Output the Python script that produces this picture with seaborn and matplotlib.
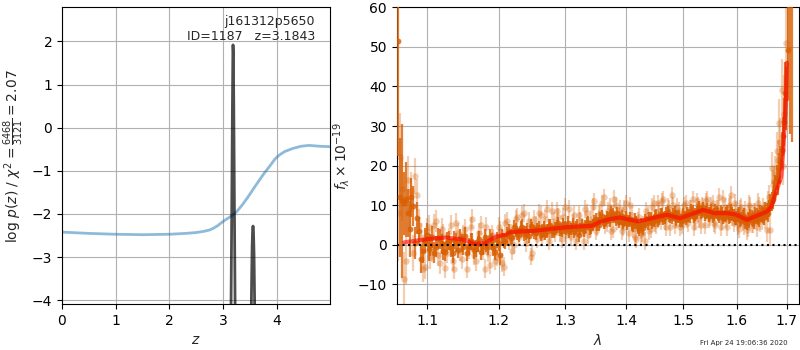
import numpy as np
import pandas as pd
import matplotlib
matplotlib.use("Agg")
import matplotlib.pyplot as plt
import seaborn as sns

# ---------------- redshift panel ----------------
z_chi = [0.0, 0.5, 1.0, 1.5, 2.0, 2.3, 2.5, 2.65, 2.75, 2.82, 2.9, 2.97, 3.05, 3.15,
         3.25, 3.35, 3.45, 3.6, 3.75, 3.88, 3.97, 4.05, 4.15, 4.3, 4.45, 4.6, 4.8, 5.0]
logp_chi = [-2.42, -2.45, -2.47, -2.48, -2.47, -2.45, -2.43, -2.40, -2.37, -2.33, -2.27,
            -2.20, -2.13, -2.05, -1.95, -1.80, -1.63, -1.35, -1.08, -0.87, -0.72, -0.63,
            -0.55, -0.48, -0.43, -0.41, -0.43, -0.44]

z_pz = [3.05, 3.12, 3.145, 3.16, 3.172, 3.18, 3.1843, 3.19, 3.198, 3.21, 3.225, 3.25,
        3.45, 3.51, 3.527, 3.54, 3.55, 3.557, 3.565, 3.575, 3.59, 3.63, 3.9]
logp_pz = [-12.0, -7.0, -4.5, -2.0, 0.3, 1.55, 1.92, 1.75, 0.6, -1.8, -4.5, -8.0,
           -12.0, -6.0, -3.9, -2.75, -2.35, -2.28, -2.4, -2.9, -4.4, -8.0, -12.0]

z_best = 3.1843
chi2_val, dof = 6468, 3121
root_name, obj_id = "j161312p5650", 1187

# ---------------- spectrum panel ----------------
# two exposures of the same grism spectrum, each with a fine (light) and
# a coarse (dark) extraction; sampling step in microns
dwave = 0.005

wave0_dark_a = 1.062
flux_dark_a = [51.5, 11.0, 11.5, 4.0, 9.8, 6.8, -3.6, 1.0, -1.0, 2.0,
               -0.5, 1.5, -1.5, 0.8, -0.8, 1.2, -1.2, 0.5, 2.2, -0.5,
               0.8, -1.0, 1.5, -0.6, 0.3, 2.0, -0.9, 1.2, -2.5, 1.0,
               2.5, 1.8, 4.5, 3.0, 4.2, 2.8, 3.6, 4.8, 3.2, 3.9,
               2.6, 4.4, 3.5, 5.0, 3.3, 4.6, 3.8, 5.2, 4.0, 3.4,
               5.1, 4.3, 2.4, 5.0, 4.6, 5.6, 4.4, 6.0, 5.2, 6.6,
               5.5, 7.0, 6.2, 7.6, 6.4, 5.8, 7.2, 6.0, 5.4, 6.6,
               4.8, 5.6, 3.8, 5.0, 6.2, 5.4, 6.8, 6.0, 7.4, 6.6,
               7.8, 6.9, 8.2, 7.0, 7.6, 6.4, 7.2, 6.0, 7.0, 8.0,
               7.2, 8.4, 7.6, 8.8, 8.0, 9.2, 8.1, 7.4, 8.6, 7.6,
               8.2, 7.0, 8.0, 7.3, 8.4, 7.1, 7.8, 6.6, 7.4, 6.2,
               7.0, 5.8, 6.6, 7.2, 6.4, 7.6, 7.0, 8.0, 7.6, 8.8,
               8.0, 10.5, 11.5, 14.7, 16.0, 21.0, 27.4, 38.3, 49.3, 62.0,
               68.0]
err_dark_a = [29.0, 19.5, 9.5, 7.0, 5.0, 4.0, 3.5, 3.2, 3.0, 2.8,
              2.6, 2.5, 2.4, 2.4, 2.3, 2.3, 2.2, 2.2, 2.2, 2.1,
              2.1, 2.1, 2.0, 2.0, 2.0, 2.0, 2.0, 2.0, 2.5, 1.9,
              1.9, 1.9, 1.8, 1.8, 1.8, 1.8, 1.8, 1.7, 1.7, 1.7,
              1.7, 1.7, 1.7, 1.6, 1.6, 1.6, 1.6, 1.6, 1.6, 1.6,
              1.6, 1.6, 1.6, 1.6, 1.6, 1.6, 1.6, 1.6, 1.6, 1.6,
              1.6, 1.6, 1.6, 1.6, 1.6, 1.6, 1.6, 1.6, 1.6, 1.6,
              1.6, 1.6, 1.6, 1.6, 1.6, 1.6, 1.6, 1.6, 1.6, 1.6,
              1.6, 1.6, 1.6, 1.6, 1.6, 1.6, 1.6, 1.6, 1.6, 1.6,
              1.6, 1.6, 1.6, 1.6, 1.6, 1.6, 1.6, 1.6, 1.6, 1.6,
              1.6, 1.6, 1.6, 1.6, 1.7, 1.7, 1.7, 1.7, 1.7, 1.7,
              1.8, 1.8, 1.8, 1.8, 1.9, 1.9, 1.9, 2.0, 2.0, 2.1,
              2.2, 2.3, 2.5, 3.0, 3.5, 4.0, 5.0, 8.0, 12.0, 34.0,
              42.0]

wave0_dark_b = 1.0645
flux_dark_b = [12.0, 10.5, 8.0, 12.0, 0.5, 3.5, -1.5, 2.5, 0.0, -2.0,
               1.8, 0.2, -1.8, 1.0, -2.2, 0.6, 1.8, -0.5, -2.0, 1.0,
               -1.4, 0.2, -1.8, 2.0, -0.6, 0.9, -1.8, 0.4, 2.2, 0.8,
               3.4, 2.0, 3.8, 2.4, 4.6, 3.0, 2.2, 4.0, 3.0, 4.4,
               3.6, 2.8, 4.8, 3.4, 4.2, 5.4, 3.6, 4.4, 5.6, 4.0,
               3.2, 4.8, 4.0, 3.6, 5.4, 4.2, 5.0, 6.4, 5.0, 7.2,
               6.0, 6.8, 8.2, 7.0, 8.0, 6.6, 5.6, 7.0, 6.0, 5.2,
               6.4, 4.4, 5.2, 4.2, 5.8, 6.8, 5.6, 7.2, 6.2, 7.6,
               6.6, 8.0, 7.4, 6.8, 8.2, 7.0, 6.2, 7.6, 6.6, 7.4,
               8.6, 7.0, 8.2, 9.4, 8.4, 7.6, 9.0, 8.0, 7.2, 8.8,
               7.6, 8.4, 6.8, 7.8, 7.0, 8.6, 7.4, 6.8, 7.8, 6.6,
               7.4, 5.6, 6.2, 7.0, 6.0, 7.2, 6.6, 7.8, 7.0, 8.4,
               9.2, 11.0, 13.2, 17.0, 19.5, 24.0, 31.0, 37.0]
err_dark_b = [15.0, 8.0, 6.0, 5.0, 4.0, 3.5, 3.2, 3.0, 2.8, 2.6,
              2.5, 2.5, 2.4, 2.4, 2.3, 2.3, 2.2, 2.2, 2.2, 2.1,
              2.1, 2.1, 2.0, 2.0, 2.0, 2.0, 2.0, 2.0, 1.9, 1.9,
              1.9, 1.9, 1.8, 1.8, 1.8, 1.8, 1.7, 1.7, 1.7, 1.7,
              1.7, 1.7, 1.6, 1.6, 1.6, 1.6, 1.6, 1.6, 1.6, 1.6,
              1.6, 1.6, 1.6, 1.6, 1.6, 1.6, 1.6, 1.6, 1.6, 1.6,
              1.6, 1.6, 1.6, 1.6, 1.6, 1.6, 1.6, 1.6, 1.6, 1.6,
              1.6, 1.6, 1.6, 1.6, 1.6, 1.6, 1.6, 1.6, 1.6, 1.6,
              1.6, 1.6, 1.6, 1.6, 1.6, 1.6, 1.6, 1.6, 1.6, 1.6,
              1.6, 1.6, 1.6, 1.6, 1.6, 1.6, 1.6, 1.6, 1.6, 1.6,
              1.6, 1.6, 1.6, 1.7, 1.7, 1.7, 1.7, 1.7, 1.8, 1.8,
              1.8, 1.8, 1.9, 1.9, 1.9, 2.0, 2.0, 2.0, 2.0, 2.1,
              2.2, 2.4, 2.8, 3.2, 3.8, 4.5, 6.0, 8.0]

wave0_light_a = 1.0645
flux_light_a = [22.3, -8.7, 16.4, 13.5, 17.4, 5.0, -6.0, 3.5, -3.0, 5.0,
                -2.5, 4.0, -5.8, 1.5, -4.0, 5.5, -1.5, 2.5, -6.0, 4.5,
                -2.5, 1.0, 5.0, -6.0, -2.0, 2.5, -4.0, 4.5, -4.5, 5.5,
                1.0, -1.5, 6.5, 2.0, 7.5, 0.5, 6.0, -2.0, 5.0, 8.0,
                2.0, 6.5, 1.0, 8.5, 3.0, 7.0, 1.5, 9.5, 4.5, 2.0,
                7.5, 3.0, 6.0, 1.0, 8.0, 4.0, 9.5, 3.5, 7.5, 10.5,
                5.0, 8.5, 3.5, 11.6, 6.0, 9.0, 4.5, 10.5, 3.0, 7.5,
                2.0, 6.0, 2.5, 5.0, 8.5, 3.5, 9.5, 5.5, 10.5, 6.0,
                11.5, 4.5, 9.0, 12.5, 5.0, 9.5, 4.5, 8.0, 10.5, 5.5,
                9.0, 4.5, 11.0, 6.5, 10.0, 5.0, 11.5, 7.0, 10.5, 5.0,
                9.0, 4.5, 11.5, 6.5, 9.5, 12.5, 5.5, 8.5, 4.0, 9.5,
                5.0, 3.8, 10.0, 5.5, 8.0, 4.5, 9.5, 6.5, 8.0, 3.8,
                12.0, 19.4, 16.0, 23.6, 30.8, 39.0, 33.0, 51.0]
err_light_a = [11.0, 7.0, 6.0, 5.0, 4.5, 4.0, 3.5, 3.2, 3.0, 2.9,
               2.8, 2.8, 2.7, 2.7, 2.6, 2.6, 2.6, 2.5, 2.5, 2.5,
               2.5, 2.5, 2.4, 2.4, 2.4, 2.4, 2.4, 2.4, 2.4, 2.3,
               2.3, 2.3, 2.3, 2.3, 2.3, 2.3, 2.3, 2.2, 2.2, 2.2,
               2.2, 2.2, 2.2, 2.2, 2.2, 2.2, 2.2, 2.2, 2.2, 2.2,
               2.2, 2.2, 2.2, 2.2, 2.2, 2.2, 2.2, 2.2, 2.2, 2.2,
               2.2, 2.2, 2.2, 2.2, 2.2, 2.2, 2.2, 2.2, 2.2, 2.2,
               2.2, 2.2, 2.2, 2.2, 2.2, 2.2, 2.2, 2.2, 2.2, 2.2,
               2.2, 2.2, 2.2, 2.2, 2.2, 2.2, 2.2, 2.2, 2.2, 2.2,
               2.2, 2.2, 2.2, 2.2, 2.2, 2.2, 2.2, 2.2, 2.2, 2.2,
               2.3, 2.3, 2.3, 2.3, 2.3, 2.3, 2.3, 2.4, 2.4, 2.4,
               2.4, 2.5, 2.5, 2.5, 2.6, 2.6, 2.7, 2.8, 2.9, 3.0,
               3.2, 4.0, 4.0, 5.0, 6.0, 8.0, 10.0, 12.0]

wave0_light_b = 1.062
flux_light_b = [8.0, 14.0, -4.0, 9.0, -2.0, 12.5, 2.0, -5.5, 4.5, -1.5,
                6.0, -4.5, 2.5, -2.0, 5.0, -6.0, 3.0, -3.5, 4.0, -1.0,
                6.5, -4.0, 3.0, -1.5, 4.5, -5.0, 1.5, -3.0, 3.5, -5.5,
                6.0, 3.0, 0.0, 7.0, 4.0, 8.0, 2.5, -3.0, 6.5, 1.5,
                7.5, 3.5, 9.0, 2.5, 6.0, 8.5, 3.0, 7.0, 2.5, 9.0,
                5.5, 1.0, 7.5, 4.5, 9.0, 2.5, 6.5, 11.0, 4.5, 8.0,
                12.0, 5.5, 9.5, 4.0, 10.0, 7.0, 3.5, 9.0, 6.0, 10.0,
                4.0, 1.5, 7.0, 3.0, 1.0, 7.5, 4.0, 10.5, 5.0, 8.5,
                11.0, 6.0, 9.5, 4.5, 10.0, 6.5, 8.5, 5.0, 10.0, 6.5,
                9.0, 11.5, 6.0, 10.0, 5.0, 9.5, 11.0, 6.5, 10.0, 5.5,
                9.0, 12.0, 6.0, 9.5, 4.5, 10.0, 7.0, 10.5, 5.0, 9.0,
                6.0, 8.5, 4.5, 9.5, 5.5, 8.0, 10.5, 6.0, 9.0, 7.0,
                10.5, 3.8, 15.0, 18.0, 21.5, 26.0, 20.0]
err_light_b = [12.0, 8.0, 6.0, 5.0, 4.5, 4.0, 3.5, 3.2, 3.0, 2.9,
               2.8, 2.8, 2.7, 2.7, 2.6, 2.6, 2.6, 2.5, 2.5, 2.5,
               2.5, 2.5, 2.4, 2.4, 2.4, 2.4, 2.4, 2.4, 2.4, 2.3,
               2.3, 2.3, 2.3, 2.3, 2.3, 2.3, 2.3, 2.2, 2.2, 2.2,
               2.2, 2.2, 2.2, 2.2, 2.2, 2.2, 2.2, 2.2, 2.2, 2.2,
               2.2, 2.2, 2.2, 2.2, 2.2, 2.2, 2.2, 2.2, 2.2, 2.2,
               2.2, 2.2, 2.2, 2.2, 2.2, 2.2, 2.2, 2.2, 2.2, 2.2,
               2.2, 2.2, 2.2, 2.2, 2.2, 2.2, 2.2, 2.2, 2.2, 2.2,
               2.2, 2.2, 2.2, 2.2, 2.2, 2.2, 2.2, 2.2, 2.2, 2.2,
               2.2, 2.2, 2.2, 2.2, 2.2, 2.2, 2.2, 2.2, 2.2, 2.2,
               2.3, 2.3, 2.3, 2.3, 2.3, 2.3, 2.3, 2.4, 2.4, 2.4,
               2.4, 2.5, 2.5, 2.5, 2.6, 2.6, 2.7, 2.8, 2.9, 3.0,
               3.1, 4.0, 4.0, 4.5, 5.0, 6.0, 5.0]

model_wave = [1.070, 1.099, 1.126, 1.149, 1.165, 1.179, 1.196, 1.210, 1.216, 1.231,
              1.251, 1.277, 1.300, 1.319, 1.343, 1.356, 1.373, 1.389, 1.420, 1.471,
              1.494, 1.536, 1.549, 1.556, 1.581, 1.600, 1.620, 1.639, 1.660, 1.669,
              1.680, 1.689, 1.693, 1.6986, 1.7005]
model_flux = [0.6, 1.4, 1.85, 1.3, 0.2, 0.4, 2.1, 2.6, 3.1, 3.4,
              3.5, 4.0, 4.4, 4.6, 4.8, 5.8, 6.5, 6.9, 5.9, 7.6,
              6.7, 8.8, 8.4, 8.0, 8.0, 7.6, 6.3, 7.3, 8.4, 9.7,
              13.9, 17.3, 24.0, 36.6, 46.0]

xticks_wave = [1.1, 1.2, 1.3, 1.4, 1.5, 1.6, 1.7]
stamp = "Fri Apr 24 19:06:36 2020"

# ---------------- figure ----------------
sns.set_style("ticks", {"axes.grid": True, "grid.color": "#b0b0b0",
                        "axes.edgecolor": "black", "xtick.color": "black",
                        "ytick.color": "black"})
plt.rcParams["font.family"] = ["DejaVu Sans"]
plt.rcParams["font.size"] = 10
plt.rcParams["grid.linewidth"] = 0.8

fig = plt.figure(figsize=(8, 3.5), dpi=100)
ax1 = fig.add_axes([0.0775, 0.131, 0.335, 0.848])
ax2 = fig.add_axes([0.496, 0.131, 0.503, 0.848])

# p(z) panel
chi_df = pd.DataFrame({"z": z_chi, "logp": logp_chi})
pz_df = pd.DataFrame({"z": z_pz, "logp": logp_pz})
sns.lineplot(data=chi_df, x="z", y="logp", ax=ax1, color="#1f77b4", alpha=0.5,
             linewidth=2, sort=False, estimator=None)
sns.lineplot(data=pz_df, x="z", y="logp", ax=ax1, color="black", alpha=0.7,
             linewidth=2, sort=False, estimator=None)
ax1.set_xlim(0, 4.99)
ax1.set_ylim(-4.09, 2.79)
ax1.set_xticks([0, 1, 2, 3, 4])
ax1.set_yticks([-4, -3, -2, -1, 0, 1, 2])
ax1.set_xlabel(r"$z$")
ax1.set_ylabel(r"log $p(z)$ / $\chi^2=\frac{%d}{%d}=%.2f$" % (chi2_val, dof, chi2_val / dof))
ax1.text(0.945, 0.975, "%s\nID=%d   z=%.4f" % (root_name, obj_id, z_best),
         ha="right", va="top", transform=ax1.transAxes, fontsize=9)
ax1.grid(True)

# spectrum panel
orange = "#d95f02"


def draw_points(wave0, flux, err, alpha, size, z):
    wave = wave0 + dwave * np.arange(len(flux))
    ax2.errorbar(wave, flux, yerr=err, fmt="none", ecolor=orange, alpha=alpha,
                 elinewidth=1.6, capsize=0, zorder=z)
    sns.scatterplot(x=wave, y=flux, ax=ax2, color=orange, alpha=alpha,
                    s=size, linewidth=0, zorder=z)


draw_points(wave0_light_a, flux_light_a, err_light_a, 0.3, 22, 2)
draw_points(wave0_light_b, flux_light_b, err_light_b, 0.3, 22, 2)
draw_points(wave0_dark_a, flux_dark_a, err_dark_a, 0.8, 18, 3)
draw_points(wave0_dark_b, flux_dark_b, err_dark_b, 0.8, 18, 3)

sns.lineplot(x=model_wave, y=model_flux, ax=ax2, color="red", alpha=0.6,
             linewidth=3, sort=False, estimator=None, zorder=4)
ax2.axhline(0, color="black", linestyle=":", linewidth=1.5, zorder=5)

ax2.set_xscale("log")
ax2.set_xlim(1.0605, 1.726)
ax2.set_ylim(-15, 60)
ax2.set_xticks(xticks_wave)
ax2.set_xticklabels(["%.1f" % t for t in xticks_wave])
ax2.xaxis.set_minor_locator(matplotlib.ticker.NullLocator())
ax2.set_yticks([-10, 0, 10, 20, 30, 40, 50, 60])
ax2.set_xlabel(r"$\lambda$")
ax2.set_ylabel(r"$f_\lambda\times 10^{-19}$")
ax2.grid(True)

fig.text(0.984, 0.012, stamp, ha="right", va="bottom", fontsize=5)

fig.savefig("out.png", dpi=100)
